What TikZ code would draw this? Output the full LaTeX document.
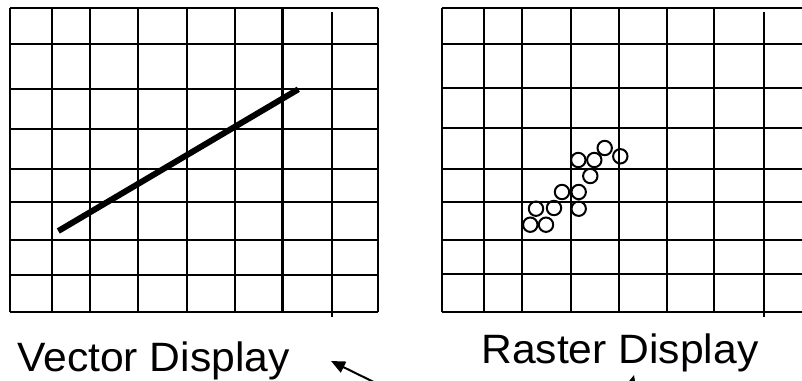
\documentclass[tikz,border=0pt]{standalone}
\usepackage{fontspec}
\setmainfont{Liberation Sans}
\usetikzlibrary{arrows.meta}
\begin{document}
\begin{tikzpicture}[x=1pt,y=-1pt,
  gridline/.style={line width=2pt,black},
  boldline/.style={line width=2.8pt,black},
  vecline/.style={line width=6pt,black},
  pixel/.style={circle,draw,line width=2pt,minimum size=14.4pt,inner sep=0pt},
  caption/.style={anchor=base west,inner sep=0pt,xscale=1.04,font=\fontsize{41}{49}\selectfont},
  pointer/.style={line width=2pt,-{Triangle[length=14pt,width=12pt]}}]
\useasboundingbox (0,0) rectangle (802,380);
\clip (0,0) rectangle (802,380);

% vector display grid
\foreach \x in {10,52.3,90,138.3,186.7,235,378.3}
  \draw[gridline] (\x,8.3) -- (\x,312.3);
\foreach \y in {8.3,44,89,129,169,202.3,240,275,312.3}
  \draw[gridline] (10,\y) -- (378.3,\y);
\draw[boldline] (282.7,8.3) -- (282.7,312.3);
\draw[gridline] (332.3,12) -- (332.3,317);

% the drawn vector
\coordinate (vstart) at (58.3,231);
\coordinate (vend) at (298.3,89.3);
\draw[vecline] (vstart) -- (vend);

% raster display grid
\foreach \x in {441.7,484.3,522.3,570.7,619,666.7,714.3}
  \draw[gridline] (\x,8.3) -- (\x,312.3);
\foreach \y in {8.3,44,88.3,128.3,169,202.3,240,274.3,312.3}
  \draw[gridline] (441.7,\y) -- (810,\y);
\draw[gridline] (764.3,12) -- (764.3,317);

% lit pixels approximating the line
\foreach \px/\py [count=\i] in {530.3/224.7,546/224.7,536/208.7,554/208,562/192,
    578.7/192,578.7/208.7,578.3/160,594.3/160,590.3/176,604.7/148,620.3/156.3}
  \node[pixel] (p\i) at (\px,\py) {};

% captions
\node[caption] (vlabel) at (17,371) {Vector Display};
\node[caption] (rlabel) at (481,363.5) {Raster Display};

% pointers
\coordinate (ptail1) at (392,391);
\coordinate (ptip1) at (331,361);
\draw[pointer] (ptail1) -- (ptip1);
\coordinate (ptail2) at (626,405);
\coordinate (ptip2) at (634,375);
\draw[pointer] (ptail2) -- (ptip2);
\end{tikzpicture}
\end{document}
